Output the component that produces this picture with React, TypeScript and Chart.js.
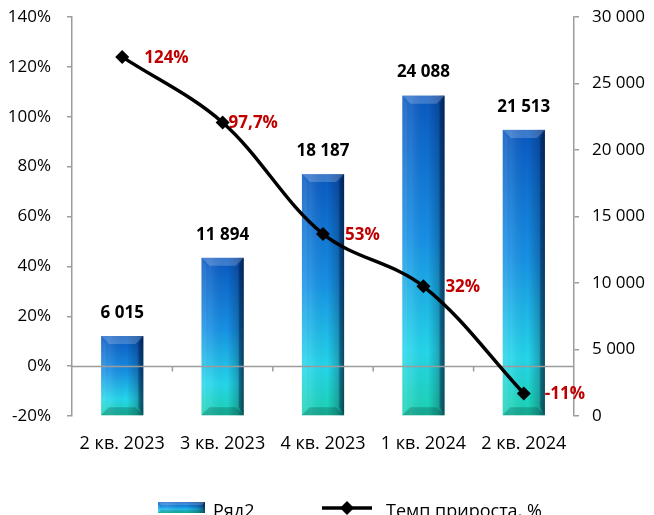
import { useEffect, useRef } from 'react';
import { Chart, registerables } from 'chart.js';

Chart.register(...registerables);

// ---- data ----
const categories = ['2 кв. 2023', '3 кв. 2023', '4 кв. 2023', '1 кв. 2024', '2 кв. 2024'];
const volumes = [6015, 11894, 18187, 24088, 21513];
const growthRates = [124, 97.7, 53, 32, -11];
const seriesNames = ['Ряд2', 'Темп прироста, %'];
const leftAxisRange = [-20, 140, 20];
const rightAxisRange = [0, 30000, 5000];

// ---- style ----
const W = 654;
const H = 515;
const FONT = "'Open Sans', 'Noto Sans', sans-serif";
const AXIS = '#9c9c9c';
const RED = '#c00000';
const lineLabelShift = [22, 6, 22, 22, 21];

function fmtThousands(v: number) {
  return Math.round(v).toString().replace(/\B(?=(\d{3})+(?!\d))/g, ' ');
}
function fmtPct(v: number) {
  return String(v).replace('.', ',') + '%';
}

function poly(ctx: CanvasRenderingContext2D, pts: number[][], fill: string) {
  ctx.beginPath();
  ctx.moveTo(pts[0][0], pts[0][1]);
  for (let i = 1; i < pts.length; i++) ctx.lineTo(pts[i][0], pts[i][1]);
  ctx.closePath();
  ctx.fillStyle = fill;
  ctx.fill();
}

function drawBeveledBar(ctx: CanvasRenderingContext2D, l: number, t: number, r: number, b: number, depth = 8) {
  const w = r - l;
  const h = b - t;
  if (h <= 0 || w <= 0) return;
  const g = ctx.createLinearGradient(0, t, 0, b);
  g.addColorStop(0, '#0a58c0');
  g.addColorStop(0.45, '#1790e4');
  g.addColorStop(0.8, '#24d6ea');
  g.addColorStop(1, '#1cd2b2');
  ctx.fillStyle = g;
  ctx.fillRect(l, t, w, h);
  const hg = ctx.createLinearGradient(l, 0, r, 0);
  hg.addColorStop(0, 'rgba(255,255,255,0.06)');
  hg.addColorStop(0.2, 'rgba(255,255,255,0.1)');
  hg.addColorStop(0.6, 'rgba(0,0,0,0)');
  hg.addColorStop(0.85, 'rgba(0,10,40,0.22)');
  hg.addColorStop(1, 'rgba(0,10,40,0.6)');
  ctx.fillStyle = hg;
  ctx.fillRect(l, t, w, h);
  const d = Math.min(depth, h / 3, w / 4);
  poly(ctx, [[l, t], [r, t], [r - d, t + d], [l + d, t + d]], 'rgba(255,255,255,0.2)');
  poly(ctx, [[l, b], [r, b], [r - d, b - d], [l + d, b - d]], 'rgba(0,50,50,0.25)');
  poly(ctx, [[r, t], [r, b], [r - d * 0.6, b - d], [r - d * 0.6, t + d]], 'rgba(0,10,40,0.25)');
  poly(ctx, [[l, t], [l, b], [l + d * 0.6, b - d], [l + d * 0.6, t + d]], 'rgba(255,255,255,0.08)');
}

function drawDiamond(ctx: CanvasRenderingContext2D, x: number, y: number, r: number) {
  ctx.beginPath();
  ctx.moveTo(x, y - r);
  ctx.lineTo(x + r, y);
  ctx.lineTo(x, y + r);
  ctx.lineTo(x - r, y);
  ctx.closePath();
  ctx.fillStyle = '#000';
  ctx.fill();
}

const customPlugin = {
  id: 'customLook',
  afterDatasetDraw(chart: any, args: any) {
    if (args.index !== 0) return;
    const ctx: CanvasRenderingContext2D = chart.ctx;
    ctx.save();
    args.meta.data.forEach((bar: any) => {
      const p = bar.getProps(['x', 'y', 'base', 'width'], true);
      drawBeveledBar(ctx, p.x - p.width / 2, p.y, p.x + p.width / 2, p.base);
    });
    // category axis line at 0%
    const ca = chart.chartArea;
    const xs = chart.scales.x;
    const y0 = Math.round(chart.scales.y.getPixelForValue(0)) + 0.5;
    ctx.strokeStyle = AXIS;
    ctx.lineWidth = 1.5;
    ctx.beginPath();
    ctx.moveTo(ca.left, y0);
    ctx.lineTo(ca.right, y0);
    for (let i = 0; i < categories.length - 1; i++) {
      const xb = (xs.getPixelForValue(i) + xs.getPixelForValue(i + 1)) / 2;
      ctx.moveTo(xb, y0);
      ctx.lineTo(xb, y0 + 5);
    }
    ctx.stroke();
    ctx.restore();
  },
  afterDatasetsDraw(chart: any) {
    const ctx: CanvasRenderingContext2D = chart.ctx;
    ctx.save();
    ctx.textBaseline = 'middle';
    ctx.font = `bold 17px ${FONT}`;
    ctx.fillStyle = '#000';
    ctx.textAlign = 'center';
    chart.getDatasetMeta(0).data.forEach((bar: any, i: number) => {
      ctx.fillText(fmtThousands(volumes[i]), bar.x, bar.y - 23);
    });
    ctx.fillStyle = RED;
    ctx.textAlign = 'left';
    chart.getDatasetMeta(1).data.forEach((pt: any, i: number) => {
      ctx.fillText(fmtPct(growthRates[i]), pt.x + lineLabelShift[i], pt.y + 1);
    });
    ctx.restore();
  },
  afterDraw(chart: any) {
    const ctx: CanvasRenderingContext2D = chart.ctx;
    ctx.save();
    const ly = 508;
    drawBeveledBar(ctx, 158, 502, 205, 513, 3);
    ctx.font = `18px ${FONT}`;
    ctx.fillStyle = '#000';
    ctx.textAlign = 'left';
    ctx.textBaseline = 'alphabetic';
    ctx.fillText(seriesNames[0], 213, 517);
    ctx.strokeStyle = '#000';
    ctx.lineWidth = 3.5;
    ctx.beginPath();
    ctx.moveTo(322, ly);
    ctx.lineTo(372, ly);
    ctx.stroke();
    drawDiamond(ctx, 347, ly, 7);
    ctx.fillStyle = '#000';
    ctx.fillText(seriesNames[1], 386, 517);
    ctx.restore();
  },
};

export default function App() {
  const ref = useRef<HTMLCanvasElement | null>(null);
  useEffect(() => {
    if (!ref.current) return;
    const tickFont = { family: FONT, size: 17 };
    const fitY = (width: number) => (s: any) => {
      s.width = width;
      s.paddingTop = 0;
      s.paddingBottom = 0;
    };
    const chart = new Chart(ref.current, {
      type: 'bar',
      data: {
        labels: categories,
        datasets: [
          {
            type: 'bar',
            label: seriesNames[0],
            data: volumes,
            yAxisID: 'y1',
            backgroundColor: 'rgba(0,0,0,0)',
            borderWidth: 0,
            barPercentage: 0.42,
            categoryPercentage: 1,
            order: 1,
          },
          {
            type: 'line',
            label: seriesNames[1],
            data: growthRates,
            yAxisID: 'y',
            borderColor: '#000',
            borderWidth: 3.5,
            backgroundColor: '#000',
            pointStyle: 'rectRot',
            pointRadius: 7,
            pointBackgroundColor: '#000',
            pointBorderColor: '#000',
            pointBorderWidth: 0,
            tension: 0.35,
            fill: false,
            order: 0,
          },
        ],
      },
      options: {
        responsive: false,
        animation: false,
        devicePixelRatio: 1,
        layout: { padding: { top: 17, left: 0, right: 0, bottom: 0 } },
        plugins: { legend: { display: false }, tooltip: { enabled: false } },
        scales: {
          x: {
            grid: { display: false },
            border: { display: false },
            ticks: { font: { family: FONT, size: 18 }, color: '#000', padding: 9, maxRotation: 0, autoSkip: false },
            afterFit(s: any) {
              s.height = 99;
              s.paddingLeft = 0;
              s.paddingRight = 0;
            },
          },
          y: {
            position: 'left',
            min: leftAxisRange[0],
            max: leftAxisRange[1],
            ticks: { stepSize: leftAxisRange[2], callback: (v: any) => v + '%', font: tickFont, color: '#000', padding: 16 },
            grid: { drawOnChartArea: false, drawTicks: true, tickLength: 5, color: AXIS, lineWidth: 1.5 },
            border: { display: true, color: AXIS, width: 1.5 },
            afterFit: fitY(72),
          },
          y1: {
            position: 'right',
            min: rightAxisRange[0],
            max: rightAxisRange[1],
            ticks: { stepSize: rightAxisRange[2], callback: (v: any) => fmtThousands(Number(v)), font: tickFont, color: '#000', padding: 13 },
            grid: { drawOnChartArea: false, drawTicks: true, tickLength: 5, color: AXIS, lineWidth: 1.5 },
            border: { display: true, color: AXIS, width: 1.5 },
            afterFit: fitY(80),
          },
        },
      },
      plugins: [customPlugin],
    } as any);
    return () => chart.destroy();
  }, []);
  return (
    <div style={{ position: 'absolute', left: 0, top: 0, width: W, height: H, background: '#fff' }}>
      <canvas ref={ref} width={W} height={H} style={{ display: 'block' }} />
    </div>
  );
}
